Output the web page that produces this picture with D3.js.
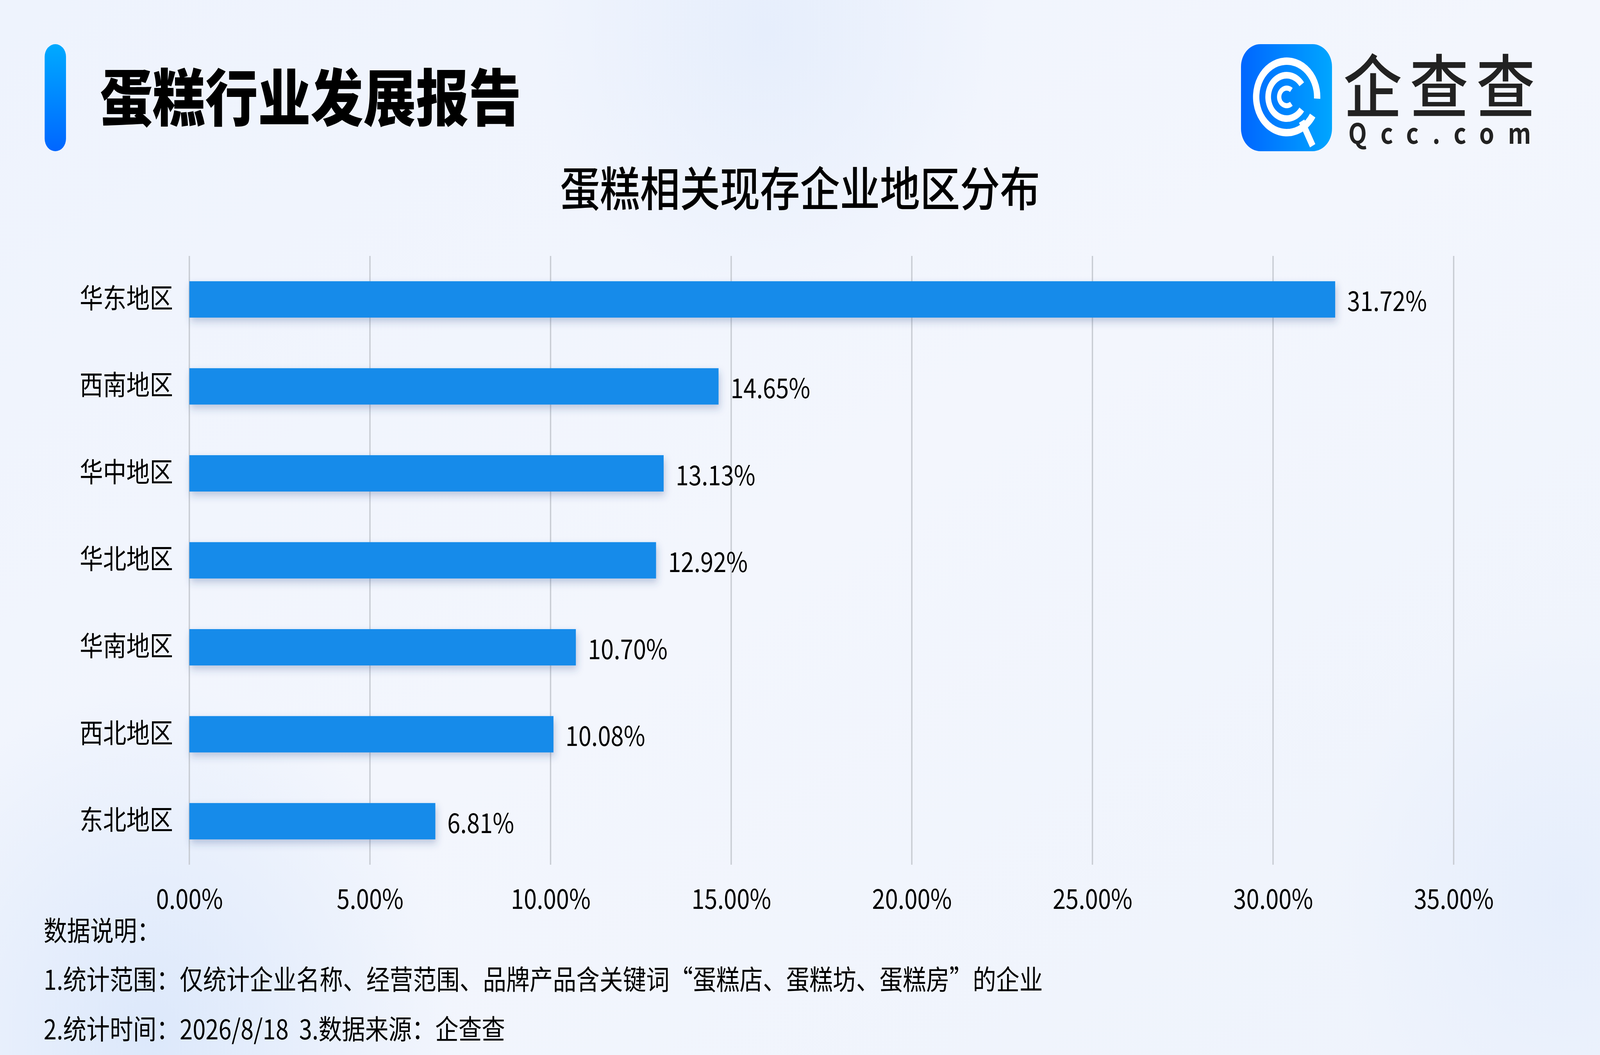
<!DOCTYPE html>
<html>
<head>
<meta charset="utf-8">
<script src="https://cdn.jsdelivr.net/npm/d3@7"></script>
<style>
  html, body { margin: 0; padding: 0; background: #eef3fc; overflow: hidden; }
  svg { display: block; }
  text { font-family: "Noto Sans CJK SC", "Noto Sans", sans-serif; white-space: pre; }
</style>
</head>
<body>
<svg id="chart"></svg>
<script>
// data
const regions = ["华东地区", "西南地区", "华中地区", "华北地区", "华南地区", "西北地区", "东北地区"];
const shares = [31.72, 14.65, 13.13, 12.92, 10.70, 10.08, 6.81];
const xTicks = [0, 5, 10, 15, 20, 25, 30, 35];

const titleText = "蛋糕行业发展报告";
const subtitleText = "蛋糕相关现存企业地区分布";
const notes = [
  "数据说明：",
  "1.统计范围：仅统计企业名称、经营范围、品牌产品含关键词“蛋糕店、蛋糕坊、蛋糕房”的企业",
  "2.统计时间：2026/8/18  3.数据来源：企查查"
];

// drawing space is 4800x2700, stretched onto whatever window we get
const W = 4800, H = 2700;
const svg = d3.select("#chart")
  .attr("width", window.innerWidth).attr("height", window.innerHeight)
  .attr("viewBox", `0 0 ${W} ${H}`)
  .attr("preserveAspectRatio", "none");
const defs = svg.append("defs");

// background
const bg = defs.append("linearGradient").attr("id", "bg").attr("x1", 0).attr("y1", 0).attr("x2", 1).attr("y2", 1);
bg.append("stop").attr("offset", 0).attr("stop-color", "#eef3fd");
bg.append("stop").attr("offset", 0.5).attr("stop-color", "#f3f6fd");
bg.append("stop").attr("offset", 1).attr("stop-color", "#eef3fc");
svg.append("rect").attr("width", W).attr("height", H).attr("fill", "url(#bg)");

const blob = defs.append("radialGradient").attr("id", "blob");
blob.append("stop").attr("offset", 0).attr("stop-color", "#e6eefc").attr("stop-opacity", 1);
blob.append("stop").attr("offset", 1).attr("stop-color", "#e6eefc").attr("stop-opacity", 0);
const blob2 = defs.append("radialGradient").attr("id", "blob2");
blob2.append("stop").attr("offset", 0).attr("stop-color", "#dce8fb").attr("stop-opacity", 1);
blob2.append("stop").attr("offset", 1).attr("stop-color", "#dce8fb").attr("stop-opacity", 0);
svg.append("circle").attr("cx", 2300).attr("cy", 80).attr("r", 700).attr("fill", "url(#blob)");
svg.append("circle").attr("cx", 450).attr("cy", 2650).attr("r", 900).attr("fill", "url(#blob2)");
svg.append("circle").attr("cx", 4700).attr("cy", 2300).attr("r", 700).attr("fill", "url(#blob)");

// title bar
const pill = defs.append("linearGradient").attr("id", "pill").attr("x1", 0).attr("y1", 0).attr("x2", 0).attr("y2", 1);
pill.append("stop").attr("offset", 0).attr("stop-color", "#00aaff");
pill.append("stop").attr("offset", 1).attr("stop-color", "#0066ff");
svg.append("rect").attr("x", 134).attr("y", 113).attr("width", 64).attr("height", 274)
  .attr("rx", 32).attr("fill", "url(#pill)");

svg.append("text").attr("x", 300).attr("y", 240)
  .attr("dominant-baseline", "central")
  .attr("font-size", 158).attr("font-weight", 900).attr("fill", "#000")
  .text(titleText);

svg.append("text").attr("x", 2400).attr("y", 476)
  .attr("text-anchor", "middle").attr("dominant-baseline", "central")
  .attr("font-size", 120).attr("font-weight", 500).attr("fill", "#000")
  .text(subtitleText);

// logo
const logo = svg.append("g").attr("transform", "translate(3723,113)");
const logoGrad = defs.append("linearGradient").attr("id", "logoGrad").attr("x1", 0).attr("y1", 0).attr("x2", 1).attr("y2", 0);
logoGrad.append("stop").attr("offset", 0).attr("stop-color", "#0066ff");
logoGrad.append("stop").attr("offset", 1).attr("stop-color", "#00a6ff");
logo.append("rect").attr("width", 273).attr("height", 274).attr("rx", 58).attr("fill", "url(#logoGrad)");
const arc = d3.arc();
const cx = 137, cy = 135;
// outer ring, opening at the right lower side
logo.append("path").attr("transform", `translate(${cx},${cy})`)
  .attr("d", arc({ innerRadius: 82, outerRadius: 101, startAngle: Math.PI * 0.5 + 0.55, endAngle: Math.PI * 2.5 + 0.05 }))
  .attr("fill", "#fff");
// middle ring
logo.append("path").attr("transform", `translate(${cx},${cy})`)
  .attr("d", arc({ innerRadius: 47, outerRadius: 64, startAngle: Math.PI * 0.5 + 0.62, endAngle: Math.PI * 2.5 - 0.62 }))
  .attr("fill", "#fff");
// inner C
logo.append("path").attr("transform", `translate(${cx},${cy})`)
  .attr("d", arc({ innerRadius: 16, outerRadius: 29, startAngle: Math.PI * 0.5 + 0.9, endAngle: Math.PI * 2.5 - 0.9 }))
  .attr("fill", "#fff");
// Q tail
logo.append("line").attr("x1", cx + 45).attr("y1", cy + 62).attr("x2", cx + 78).attr("y2", cy + 125)
  .attr("stroke", "#fff").attr("stroke-width", 18);

svg.append("text").attr("x", 4030).attr("y", 210)
  .attr("dominant-baseline", "central")
  .attr("font-size", 176).attr("font-weight", 500).attr("fill", "#222")
  .attr("textLength", 575).attr("lengthAdjust", "spacing")
  .text("企查查");
svg.append("text").attr("x", 4045).attr("y", 368)
  .attr("font-family", "DejaVu Sans").attr("font-size", 72).attr("font-weight", 700).attr("fill", "#222")
  .attr("textLength", 548).attr("lengthAdjust", "spacing")
  .text("Qcc.com");

// chart
const x = d3.scaleLinear().domain([0, 35]).range([568, 4361]);
const y = d3.scaleBand().domain(regions).range([655, 2213]).paddingInner(0.582).paddingOuter(0.291);

const shadow = defs.append("filter").attr("id", "shadow").attr("x", "-5%").attr("y", "-50%").attr("width", "110%").attr("height", "200%");
shadow.append("feDropShadow").attr("dx", 4).attr("dy", 10).attr("stdDeviation", 10)
  .attr("flood-color", "#2a4a8a").attr("flood-opacity", 0.28);

// grid
svg.append("g").selectAll("line").data(xTicks).join("line")
  .attr("x1", d => x(d)).attr("x2", d => x(d))
  .attr("y1", 655).attr("y2", 2213)
  .attr("stroke", "#c8ccd3").attr("stroke-width", 4);

// x axis labels
const xAxis = svg.append("g").attr("transform", "translate(0,2301)")
  .call(d3.axisBottom(x).tickValues(xTicks).tickSize(0).tickPadding(0).tickFormat(d => d.toFixed(2) + "%"));
xAxis.select(".domain").remove();
xAxis.selectAll("text").attr("font-size", 70).attr("fill", "#000").attr("dy", "0.35em")
  .attr("font-family", "Noto Sans CJK SC");

// y axis labels
const yAxis = svg.append("g").attr("transform", "translate(519,0)")
  .call(d3.axisLeft(y).tickSize(0).tickPadding(0));
yAxis.select(".domain").remove();
yAxis.selectAll("text").attr("font-size", 70).attr("fill", "#000")
  .attr("font-family", "Noto Sans CJK SC");

// bars
const rows = regions.map((r, i) => ({ region: r, value: shares[i] }));
svg.append("g").selectAll("rect").data(rows).join("rect")
  .attr("x", x(0)).attr("y", d => y(d.region))
  .attr("width", d => x(d.value) - x(0)).attr("height", y.bandwidth())
  .attr("fill", "#168bea").attr("filter", "url(#shadow)");

svg.append("g").selectAll("text").data(rows).join("text")
  .attr("x", d => x(d.value) + 36).attr("y", d => y(d.region) + y.bandwidth() / 2)
  .attr("dominant-baseline", "central")
  .attr("font-size", 70).attr("fill", "#000")
  .text(d => d.value.toFixed(2) + "%");

// notes
svg.append("g").selectAll("text").data(notes).join("text")
  .attr("x", 131).attr("y", (d, i) => [2378, 2503, 2630][i])
  .attr("dominant-baseline", "central")
  .attr("font-size", 70).attr("fill", "#000")
  .text(d => d);
</script>
</body>
</html>
